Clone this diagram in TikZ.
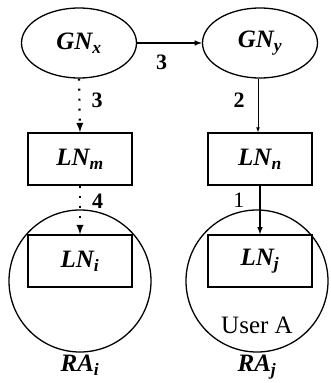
\documentclass[tikz,border=0pt]{standalone}
\usepackage{fontspec}
\setmainfont{Liberation Serif}
\usetikzlibrary{shapes,arrows,positioning,calc}

\begin{document}
\begin{tikzpicture}[
    x=1pt, y=1pt,
    gnode/.style={draw, ellipse, line width=1.3pt, minimum width=115pt, minimum height=70pt, font=\fontsize{25}{28}\selectfont\bfseries\itshape},
    lnode/.style={draw, rectangle, line width=1.3pt, minimum width=104pt, minimum height=52pt, font=\fontsize{25}{28}\selectfont\bfseries\itshape},
    region/.style={draw, circle, line width=1.3pt, minimum size=142pt},
    rname/.style={inner sep=0pt, font=\fontsize{25}{28}\selectfont\bfseries\itshape},
    lbl/.style={font=\fontsize{22}{25}\selectfont\bfseries, inner sep=1pt},
    arrow/.style={-latex, line width=1.5pt},
    darrow/.style={-latex, line width=2.2pt, dash pattern=on 2pt off 8pt}
]
\useasboundingbox (0,0) rectangle (330,-383);

% Global nodes
\node[gnode] (gnx) at (79,-43) {GN\textsubscript{x}};
\node[gnode] (gny) at (260,-43) {GN\textsubscript{y}};

% Local nodes
\node[lnode] (lnm) at (80,-159) {LN\textsubscript{m}};
\node[lnode] (lnn) at (260,-159) {LN\textsubscript{n}};

% Regions
\node[region] (rai) at (80,-281) {};
\node[region] (raj) at (257,-281) {};
\node[lnode] (lni) at (80,-261) {LN\textsubscript{i}};
\node[lnode] (lnj) at (260,-261) {LN\textsubscript{j}};
\node[font=\fontsize{25}{28}\selectfont, below=26pt of lnj, xshift=-3pt] (usera) {User A};
\node[rname, below=2pt of rai.south] (rail) {RA\textsubscript{i}};
\node[rname, below=2pt of raj.south] (rajl) {RA\textsubscript{j}};

% Arrows
\draw[arrow] (gnx) -- node[lbl, pos=0.38, below=10pt] {3} (gny);
\draw[darrow] (gnx.south) -- node[lbl, pos=0.4, right=10pt] {3} (lnm.north);
\draw[-latex, line width=0.7pt] (gny.south -| 258,0) -- node[lbl, pos=0.4, left=12pt] {2} (lnn.north -| 258,0);
\draw[darrow] (lnm.south) -- node[lbl, pos=0.33, right=10pt] {4} (lni.north);
\draw[arrow] (lnn.south) -- node[lbl, pos=0.3, left=14pt, font=\fontsize{22}{25}\selectfont] {1} (lnj.north);

\end{tikzpicture}
\end{document}
